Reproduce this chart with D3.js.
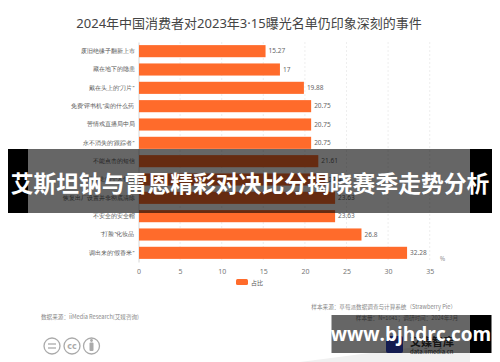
<!DOCTYPE html>
<html>
<head>
<meta charset="utf-8">
<script src="https://cdn.jsdelivr.net/npm/d3@7"></script>
<style>
  body { margin: 0; background: #fff; }
  svg { display: block; font-family: "Noto Sans CJK SC", "Noto Sans", sans-serif; }
</style>
</head>
<body>
<svg id="chart" width="500" height="362"></svg>
<script>
var categories = ["废旧绝缘子翻新上市", "藏在地下的隐患", "戴在头上的“刀片”", "免费“评书机”卖的什么药",
  "苦情戏直播局中局", "永不消失的“跟踪者”", "不能点击的短信", "被偷走的个人信息",
  "恢复出厂设置并非彻底清除", "不安全的安全帽", "“打脸”化妆品", "调出来的“假香米”"];
var values = [15.27, 17, 19.88, 20.75, 20.75, 20.75, 21.61, 22.48, 23.63, 23.63, 26.8, 32.28];
var ticks = [0, 5, 10, 15, 20, 25, 30, 35];

var orange = "#ff6b2b";
var svg = d3.select("#chart");

// title
svg.append("text")
   .attr("x", 249).attr("y", 28)
   .attr("text-anchor", "middle")
   .attr("font-size", 13)
   .attr("fill", "#444")
   .attr("font-family", "\"Noto Sans\", \"Noto Sans CJK SC\", sans-serif")
   .text("2024年中国消费者对2023年3·15曝光名单仍印象深刻的事件");

var x = d3.scaleLinear().domain([0, 35]).range([138.5, 429.7]);
var y = d3.scaleBand().domain(categories).range([42, 262]).paddingInner(0.34).paddingOuter(0.17);

// grid
svg.append("g")
   .selectAll("line")
   .data(ticks.slice(1))
   .join("line")
   .attr("x1", d => x(d)).attr("x2", d => x(d))
   .attr("y1", 42).attr("y2", 262)
   .attr("stroke", "#e6e6e6")
   .attr("stroke-dasharray", "2,2")
   .attr("stroke-width", 0.7);

// x tick labels
var xAxis = svg.append("g")
   .attr("transform", "translate(0,262)")
   .call(d3.axisBottom(x).tickValues(ticks).tickSize(0).tickPadding(7));
xAxis.select(".domain").remove();
xAxis.selectAll("text").attr("font-size", 7).attr("fill", "#777").attr("font-family", "\"Noto Sans\", sans-serif");

svg.append("text")
   .attr("x", 440).attr("y", 261)
   .attr("font-size", 5.5).attr("fill", "#777")
   .text("%");

// y axis
var yAxis = svg.append("g")
   .attr("transform", "translate(138.5,0)")
   .call(d3.axisLeft(y).tickSize(0).tickPadding(4));
yAxis.select(".domain").attr("stroke", "#ccc").attr("stroke-width", 0.8);
yAxis.selectAll("text").attr("font-size", 6).attr("fill", "#555");

// bars
svg.append("g")
   .selectAll("rect")
   .data(values)
   .join("rect")
   .attr("x", x(0) + 0.5)
   .attr("y", (d, i) => y(categories[i]))
   .attr("width", d => x(d) - x(0) - 0.5)
   .attr("height", y.bandwidth())
   .attr("fill", orange);

svg.append("g")
   .selectAll("text")
   .data(values)
   .join("text")
   .attr("x", d => x(d) + 3)
   .attr("y", (d, i) => y(categories[i]) + y.bandwidth() / 2 + 2)
   .attr("font-size", 6.5)
   .attr("fill", "#666")
   .attr("font-family", "\"Noto Sans\", sans-serif")
   .text(d => d);

// legend
svg.append("rect")
   .attr("x", 236).attr("y", 279).attr("width", 12).attr("height", 6)
   .attr("rx", 1.5).attr("fill", orange);
svg.append("text")
   .attr("x", 251).attr("y", 284.5)
   .attr("font-size", 6).attr("fill", "#555")
   .text("占比");

// footnotes
svg.append("text")
   .attr("x", 41).attr("y", 319)
   .attr("font-size", 5.6).attr("fill", "#888")
   .text("数据来源：iiMedia Research(艾媒咨询)");
svg.append("text")
   .attr("x", 456).attr("y", 309)
   .attr("text-anchor", "end")
   .attr("font-size", 5.6).attr("fill", "#888")
   .text("样本来源：草莓派数据调查与计算系统（Strawberry Pie）");
svg.append("text")
   .attr("x", 458).attr("y", 319.5)
   .attr("text-anchor", "end")
   .attr("font-size", 5.6).attr("fill", "#888")
   .text("样本量：N=1041；调研时间：2024年3月");

// cc icons
var icons = svg.append("g").attr("fill", "none").attr("stroke", "#aaa").attr("stroke-width", 1.3);
[52, 72, 91.5].forEach(function (cx) {
  icons.append("circle").attr("cx", cx).attr("cy", 346).attr("r", 8);
});
icons.append("line").attr("x1", 48).attr("x2", 56).attr("y1", 344).attr("y2", 344);
icons.append("line").attr("x1", 48).attr("x2", 56).attr("y1", 348).attr("y2", 348);
svg.append("text")
   .attr("x", 72).attr("y", 349).attr("text-anchor", "middle")
   .attr("font-size", 8).attr("fill", "#aaa").attr("font-weight", "bold")
   .attr("font-family", "\"DejaVu Sans\", sans-serif")
   .text("cc");
svg.append("circle").attr("cx", 91.5).attr("cy", 340.5).attr("r", 1.4).attr("fill", "#aaa");
svg.append("rect").attr("x", 89.5).attr("y", 342.5).attr("width", 4).attr("height", 8.5).attr("rx", 1).attr("fill", "#aaa");

// faint corner decoration
svg.append("path")
   .attr("d", "M300,362 L470,340 L470,362 Z")
   .attr("fill", "#f0f0f0");

// logo under watermark
svg.append("rect").attr("x", 386).attr("y", 336).attr("width", 17).attr("height", 17).attr("rx", 2).attr("fill", "#3346c8");
svg.append("text").attr("x", 410).attr("y", 346).attr("font-size", 11).attr("font-weight", "bold").attr("fill", "#333").text("艾媒智库");
svg.append("text").attr("x", 410).attr("y", 354).attr("font-size", 6).attr("fill", "#333").text("data.iimedia.cn");

// banner overlay
svg.append("rect").attr("x", 8).attr("y", 149).attr("width", 20).attr("height", 64).attr("fill", "#000");
svg.append("rect").attr("x", 470).attr("y", 149).attr("width", 22).attr("height", 64).attr("fill", "#000");
svg.append("rect").attr("x", 28).attr("y", 149).attr("width", 442).attr("height", 64).attr("fill", "rgba(0,0,0,0.6)");
svg.append("text")
   .attr("x", 250).attr("y", 192)
   .attr("text-anchor", "middle")
   .attr("font-size", 22.8).attr("font-weight", "bold").attr("fill", "#fff")
   .text("艾斯坦钠与雷恩精彩对决比分揭晓赛季走势分析");

// watermark overlay
svg.append("rect").attr("x", 470).attr("y", 315).attr("width", 21.5).attr("height", 38).attr("fill", "#000");
svg.append("rect").attr("x", 331.5).attr("y", 315).attr("width", 138.5).attr("height", 38).attr("fill", "rgba(0,0,0,0.6)");
svg.append("text")
   .attr("x", 411).attr("y", 341)
   .attr("text-anchor", "middle")
   .attr("font-size", 19).attr("font-weight", "bold").attr("fill", "#fff")
   .attr("font-family", "\"Open Sans\", \"DejaVu Sans\", sans-serif")
   .text("www.bjhdrc.com");
</script>
</body>
</html>
